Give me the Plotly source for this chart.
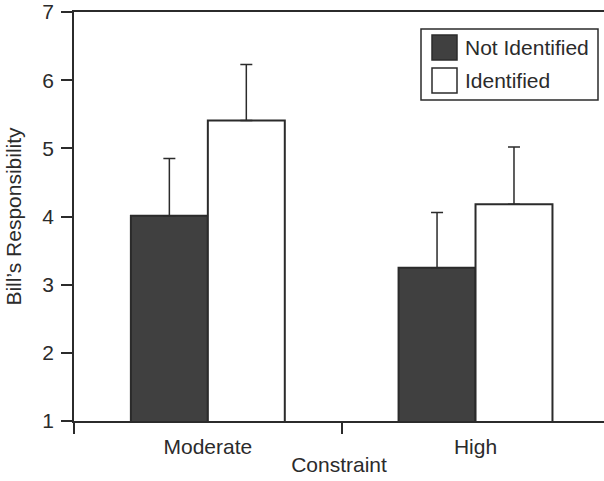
import plotly.graph_objects as go

# Mean responsibility ratings by constraint level and identification condition
constraint = ["Moderate", "High"]
not_identified = [4.01, 3.25]
not_identified_err = [0.84, 0.81]
identified = [5.41, 4.18]
identified_err = [0.82, 0.84]
series_names = ["Not Identified", "Identified"]
y_ticks = [1, 2, 3, 4, 5, 6, 7]

W, H = 604, 481
L, T, B, R = 74, 12, 60, 0
plot_w = W - L - R
plot_h = H - T - B

INK = "#2b2b2b"
DARK = "#404040"
FONT = "Liberation Sans, Arial, sans-serif"
FS = 21


def px_x(x):
    return (x - L) / plot_w


def px_y(y):
    return (H - B - y) / plot_h


fig = go.Figure()
fig.add_trace(go.Bar(
    x=constraint, y=not_identified, name=series_names[0],
    marker=dict(color=DARK, line=dict(color=INK, width=2)),
    error_y=dict(type="data", array=not_identified_err,
                 arrayminus=[0] * len(not_identified_err), symmetric=False,
                 color=INK, thickness=1.5, width=6),
    showlegend=False,
))
fig.add_trace(go.Bar(
    x=constraint, y=identified, name=series_names[1],
    marker=dict(color="white", line=dict(color=INK, width=2)),
    error_y=dict(type="data", array=identified_err,
                 arrayminus=[0] * len(identified_err), symmetric=False,
                 color=INK, thickness=1.5, width=6),
    showlegend=False,
))

# Boxed key in the upper right
shapes = [
    dict(type="rect", xref="paper", yref="paper",
         x0=px_x(421), x1=px_x(598), y0=px_y(100), y1=px_y(29),
         line=dict(color=INK, width=1.5), fillcolor="white", layer="above"),
    dict(type="rect", xref="paper", yref="paper",
         x0=px_x(432), x1=px_x(457), y0=px_y(60), y1=px_y(35),
         line=dict(color=INK, width=1.5), fillcolor=DARK, layer="above"),
    dict(type="rect", xref="paper", yref="paper",
         x0=px_x(432), x1=px_x(457), y0=px_y(93), y1=px_y(68),
         line=dict(color=INK, width=1.5), fillcolor="white", layer="above"),
]
annotations = [
    dict(xref="paper", yref="paper", x=px_x(463), y=px_y(47.5),
         text=series_names[0], showarrow=False, xanchor="left", yanchor="middle",
         font=dict(family=FONT, size=FS, color=INK)),
    dict(xref="paper", yref="paper", x=px_x(463), y=px_y(81),
         text=series_names[1], showarrow=False, xanchor="left", yanchor="middle",
         font=dict(family=FONT, size=FS, color=INK)),
]

fig.update_layout(
    width=W, height=H,
    margin=dict(l=L, r=R, t=T, b=B, pad=0),
    paper_bgcolor="white", plot_bgcolor="white",
    barmode="group", bargap=0.425, bargroupgap=0,
    font=dict(family=FONT, size=FS, color=INK),
    shapes=shapes, annotations=annotations,
    xaxis=dict(
        type="category", range=[-0.5, 1.48],
        showline=True, linecolor=INK, linewidth=1.5, mirror=True,
        ticks="outside", tickson="boundaries", ticklen=11, tickwidth=1.5, tickcolor=INK,
        ticklabelstandoff=6,
        showgrid=False, zeroline=False,
        tickfont=dict(family=FONT, size=FS, color=INK),
        title=dict(text="Constraint", standoff=0, font=dict(family=FONT, size=FS, color=INK)),
    ),
    yaxis=dict(
        range=[1, 7], tickvals=y_ticks,
        showline=True, linecolor=INK, linewidth=1.5,
        ticks="outside", ticklen=11, tickwidth=1.5, tickcolor=INK,
        ticklabelstandoff=3,
        showgrid=False, zeroline=False,
        tickfont=dict(family=FONT, size=FS, color=INK),
        title=dict(text="Bill\u2019s Responsibility", standoff=15,
                   font=dict(family=FONT, size=FS, color=INK)),
    ),
)

fig.write_html("out.html")
